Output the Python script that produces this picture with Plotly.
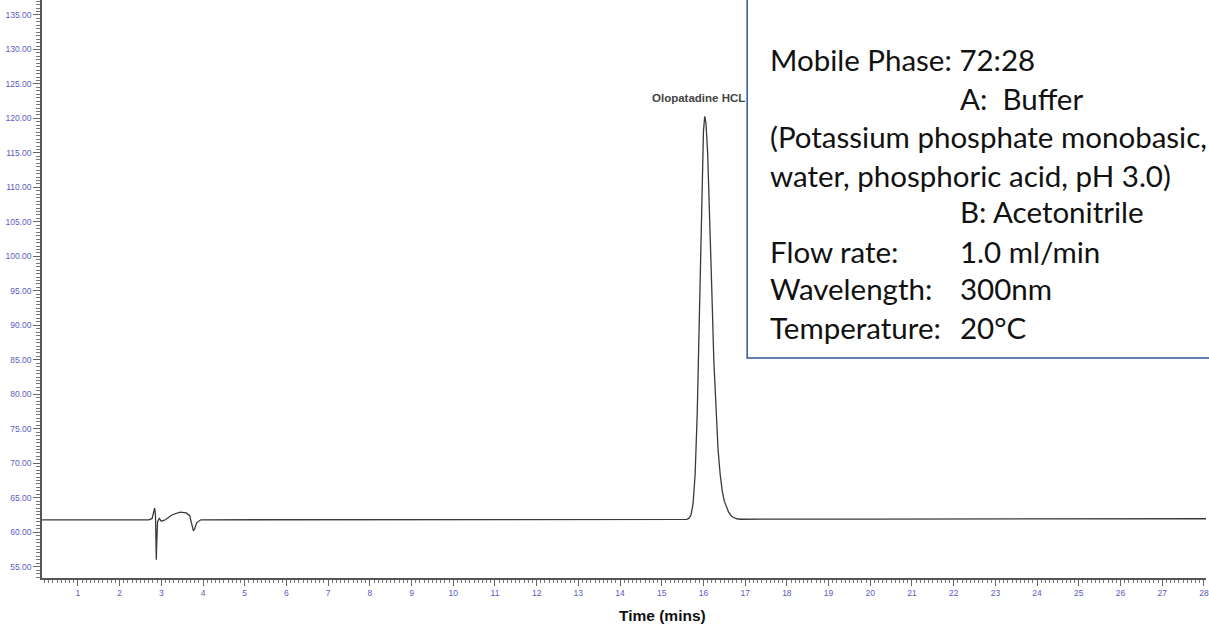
import plotly.graph_objects as go

# ---- data ----
time_min = [
    0.14, 2.30, 2.70, 2.78, 2.82, 2.84, 2.86, 2.87, 2.88, 2.89,
    2.91, 2.95, 3.00, 3.10, 3.25, 3.45, 3.60, 3.68, 3.72, 3.77,
    3.80, 3.85, 3.95, 4.50, 8.00, 12.00, 15.60, 15.65, 15.70, 15.75,
    15.80, 15.85, 15.90, 15.95, 16.00, 16.03, 16.06, 16.10, 16.15, 16.20,
    16.25, 16.30, 16.35, 16.40, 16.45, 16.50, 16.55, 16.60, 16.65, 16.70,
    16.80, 16.90, 20.00, 24.00, 28.05,
]
signal = [
    61.80, 61.80, 61.80, 62.00, 63.00, 63.50, 62.50, 58.00, 56.00, 58.50,
    61.50, 62.00, 61.60, 61.80, 62.50, 62.90, 62.80, 62.40, 61.50, 60.20,
    60.50, 61.40, 61.80, 61.80, 61.82, 61.85, 61.85, 62.00, 62.50, 64.10,
    68.40, 77.10, 90.90, 106.70, 118.20, 120.30, 119.30, 115.00, 106.00, 95.10,
    84.60, 77.20, 72.00, 68.40, 66.00, 64.50, 63.60, 62.95, 62.50, 62.20,
    61.95, 61.88, 61.90, 61.95, 61.95,
]
peak_name = "Olopatadine HCL"
peak_time = 16.03
peak_top = 120.3

x_ticks = list(range(1, 29))
y_ticks = list(range(55, 140, 5))

info_left = [
    "Mobile Phase: 72:28",
    "(Potassium phosphate monobasic,",
    "water, phosphoric acid, pH 3.0)",
    "Flow rate:",
    "Wavelength:",
    "Temperature:",
]
info_right = [
    "A:  Buffer",
    "B: Acetonitrile",
    "1.0 ml/min",
    "300nm",
    "20°C",
]

# ---- figure geometry (pixels) ----
W, H = 1209, 625
ML, MR, MT, MB = 42, 0, 0, 47
PW = W - ML - MR
PH = H - MT - MB


def px(xp):
    return (xp - ML) / PW


def py(yp):
    return (PH - (yp - MT)) / PH


fig = go.Figure()
fig.add_trace(go.Scatter(
    x=time_min, y=signal, mode="lines",
    line=dict(color="#3a3a3a", width=1.3),
    hoverinfo="skip", showlegend=False,
))

tick_font = dict(family="Liberation Sans, Arial", size=8.5, color="#5b5bbf")

fig.update_layout(
    width=W, height=H,
    margin=dict(l=ML, r=MR, t=MT, b=MB),
    paper_bgcolor="white", plot_bgcolor="white",
    showlegend=False,
    xaxis=dict(
        range=[0.139, 28.05], tickvals=x_ticks, ticktext=[str(v) for v in x_ticks],
        showgrid=False, zeroline=False,
        showline=True, linecolor="#555555", linewidth=1.5,
        ticks="outside", ticklen=6, tickwidth=1, tickcolor="#666666",
        tickfont=tick_font, ticklabelstandoff=0, ticklabeloverflow="allow",
        minor=dict(dtick=0.1, ticks="outside", ticklen=3, tickcolor="#777777", tickwidth=1, showgrid=False),
    ),
    yaxis=dict(
        range=[53.36, 137.17], tickvals=y_ticks, ticktext=["%.2f" % v for v in y_ticks],
        showgrid=False, zeroline=False,
        showline=True, linecolor="#555555", linewidth=1.5,
        ticks="outside", ticklen=7, tickwidth=1, tickcolor="#666666",
        tickfont=tick_font, ticklabeloverflow="allow",
        minor=dict(dtick=0.5, ticks="outside", ticklen=4, tickcolor="#777777", tickwidth=1, showgrid=False),
    ),
)

# peak label
fig.add_annotation(
    x=peak_time, y=peak_top, xref="x", yref="y",
    text="<b>%s</b>" % peak_name, showarrow=False,
    xanchor="center", yanchor="bottom", xshift=-6, yshift=10,
    font=dict(family="Liberation Sans, Arial", size=11.5, color="#444444"),
)

# x-axis title
fig.add_annotation(
    x=px(664), y=py(616), xref="paper", yref="paper",
    text="<b>Time (mins)</b>", showarrow=False,
    xanchor="center", yanchor="middle",
    font=dict(family="Liberation Sans, Arial", size=15.5, color="#111111"),
)

# info box
fig.add_shape(
    type="rect", xref="paper", yref="paper",
    x0=px(749), x1=1.02, y0=py(358), y1=1.02,
    line=dict(color="#2f5597", width=1.5), fillcolor="white", layer="above",
)

box_font = dict(family="Lato", size=29.5, color="#111111")
left_y = [59, 136, 175, 251, 288, 327]
right_y = [98, 212, 251, 288, 327]
for txt, yy in zip(info_left, left_y):
    fig.add_annotation(x=px(770), y=py(yy), xref="paper", yref="paper", text=txt,
                       showarrow=False, xanchor="left", yanchor="middle", font=box_font)
for txt, yy in zip(info_right, right_y):
    fig.add_annotation(x=px(960), y=py(yy), xref="paper", yref="paper", text=txt,
                       showarrow=False, xanchor="left", yanchor="middle", font=box_font)

fig.write_html(
    "out.html",
    config={"displayModeBar": False},
    post_script="document.body.style.margin='0';document.body.style.overflow='hidden';",
)
